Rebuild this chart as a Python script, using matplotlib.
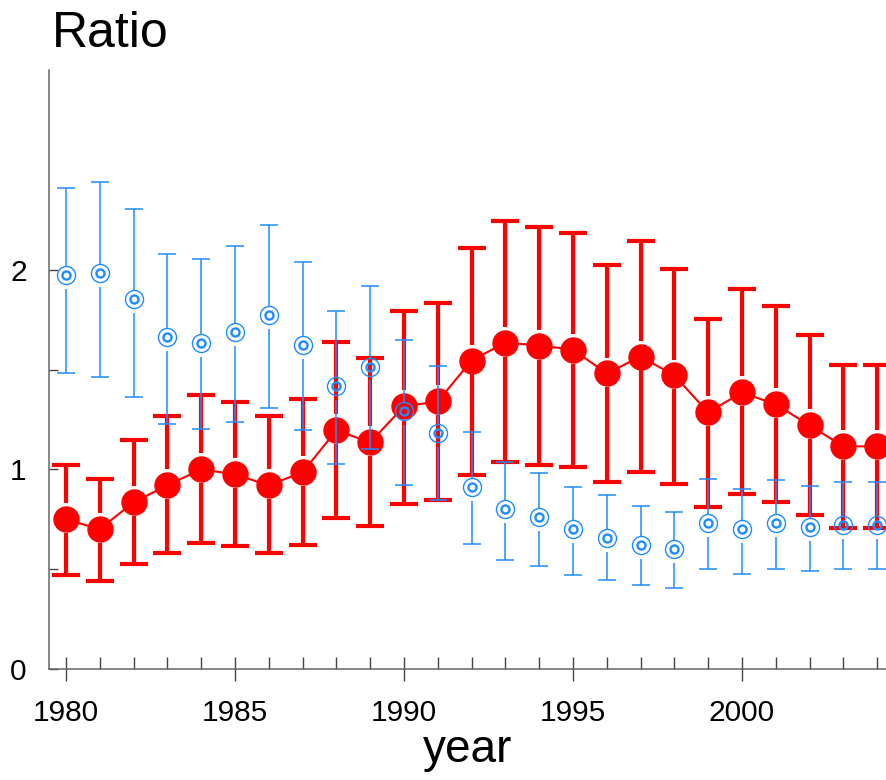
import matplotlib
matplotlib.use('Agg')
import matplotlib.pyplot as plt
import numpy as np

plt.rcParams['font.family'] = ['Liberation Sans', 'DejaVu Sans']

# Дані
years = list(range(1980, 2005))

red_val = [0.75, 0.70, 0.835, 0.92, 1.00, 0.975, 0.92, 0.985, 1.195, 1.135, 1.315, 1.34, 1.545,
           1.635, 1.62, 1.60, 1.48, 1.565, 1.47, 1.285, 1.385, 1.325, 1.22, 1.115, 1.115]
red_hi = [1.02, 0.95, 1.145, 1.265, 1.37, 1.335, 1.265, 1.35, 1.64, 1.56, 1.795, 1.835, 2.11,
          2.245, 2.215, 2.185, 2.025, 2.145, 2.005, 1.755, 1.905, 1.82, 1.675, 1.525, 1.525]
red_lo = [0.47, 0.44, 0.525, 0.58, 0.63, 0.615, 0.58, 0.62, 0.755, 0.715, 0.825, 0.845, 0.97,
          1.035, 1.02, 1.01, 0.935, 0.985, 0.925, 0.81, 0.875, 0.835, 0.77, 0.705, 0.705]

blue_val = [1.975, 1.985, 1.855, 1.665, 1.635, 1.69, 1.775, 1.625, 1.415, 1.515, 1.29, 1.18, 0.91,
            0.80, 0.76, 0.70, 0.655, 0.62, 0.60, 0.73, 0.70, 0.73, 0.71, 0.72, 0.72]
blue_hi = [2.41, 2.44, 2.305, 2.08, 2.055, 2.12, 2.225, 2.04, 1.795, 1.92, 1.65, 1.52, 1.185,
           1.035, 0.98, 0.91, 0.87, 0.815, 0.785, 0.95, 0.90, 0.945, 0.915, 0.935, 0.935]
blue_lo = [1.48, 1.46, 1.36, 1.225, 1.20, 1.235, 1.305, 1.195, 1.025, 1.10, 0.92, 0.845, 0.625,
           0.545, 0.515, 0.47, 0.445, 0.42, 0.405, 0.50, 0.475, 0.50, 0.49, 0.50, 0.50]

RED = '#ff0000'
BLUE = '#1e8cff'

fig = plt.figure(figsize=(8.86, 7.8), dpi=100)
ax = fig.add_axes([49 / 886, 111 / 780, 837 / 886, 599 / 780])

x = np.array(years)
rv, rh, rl = np.array(red_val), np.array(red_hi), np.array(red_lo)
bv, bh, bl = np.array(blue_val), np.array(blue_hi), np.array(blue_lo)

# червона серія: вуса з проміжком біля маркера
ax.vlines(x, rv + 0.08, rh, color=RED, lw=3.0, zorder=2)
ax.vlines(x, rl, rv - 0.07, color=RED, lw=3.0, zorder=2)
ax.plot(x, rh, ls='none', marker='_', ms=19.5, mew=3.0, color=RED, zorder=2)
ax.plot(x, rl, ls='none', marker='_', ms=19.5, mew=3.0, color=RED, zorder=2)
ax.plot(x, rv, color=RED, lw=1.5, marker='o', ms=18, mec=RED, mfc=RED, zorder=3)

# синя серія (подвійне кільце)
ax.vlines(x, bv + 0.045, bh, color=BLUE, lw=1.1, zorder=4)
ax.vlines(x, bl, bv - 0.07, color=BLUE, lw=1.1, zorder=4)
ax.plot(x, bh, ls='none', marker='_', ms=13, mew=1.1, color=BLUE, zorder=4)
ax.plot(x, bl, ls='none', marker='_', ms=13, mew=1.1, color=BLUE, zorder=4)
ax.plot(x, bv, ls='none', marker='o', ms=13, mfc='none', mec=BLUE, mew=1.0, zorder=5)
ax.plot(x, bv, ls='none', marker='o', ms=5.8, mfc='none', mec=BLUE, mew=1.7, zorder=5)

ax.set_xlim(1979.5, 2004.26)
ax.set_ylim(0, 3.0)

for s in ['top', 'right']:
    ax.spines[s].set_visible(False)
for s in ['left', 'bottom']:
    ax.spines[s].set_color('#666666')
    ax.spines[s].set_linewidth(1.1)

ax.set_xticks([1980, 1985, 1990, 1995, 2000])
ax.set_xticks(years, minor=True)
ax.set_yticks([0, 1, 2])
ax.set_yticks([0.5, 1.5], minor=True)

ax.tick_params(axis='x', which='major', direction='inout', length=17, width=1.0,
               color='#444444', labelsize=21.5, pad=13)
ax.tick_params(axis='x', which='minor', direction='in', length=8.5, width=1.0, color='#444444')
ax.tick_params(axis='y', which='both', direction='in', length=6.5, width=1.0,
               color='#444444', labelsize=21.5, pad=16)

ax.set_xlabel('year', fontsize=33, labelpad=1)
fig.text(52 / 886, 1 - 47 / 780, 'Ratio', fontsize=36, ha='left', va='baseline')

fig.savefig('out.png', dpi=100)
